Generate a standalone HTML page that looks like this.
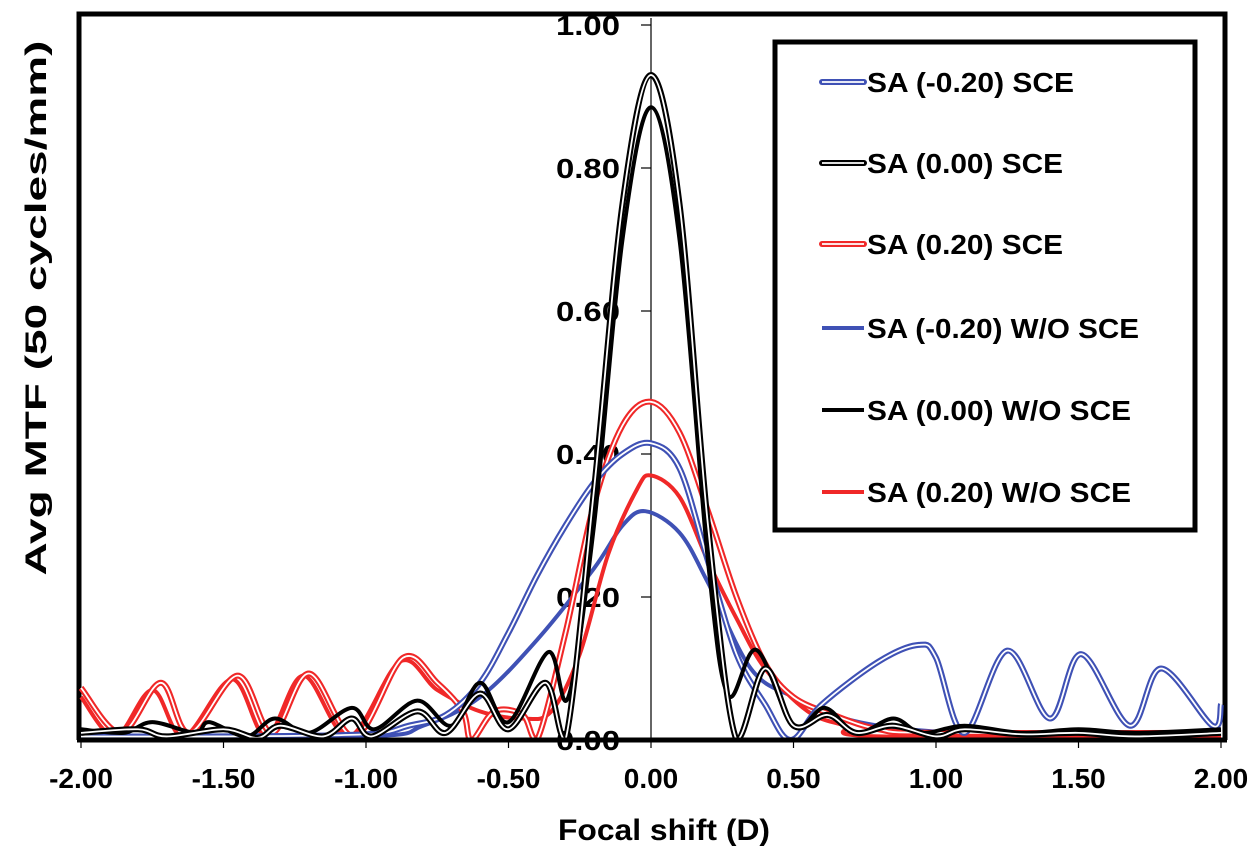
<!DOCTYPE html>
<html><head><meta charset="utf-8"><style>
html,body{margin:0;padding:0;background:#fff;}
svg{display:block;font-family:"Liberation Sans",Arial,sans-serif;font-weight:bold;}
</style></head><body>
<svg id="chart" width="1260" height="862" viewBox="0 0 1260 862"></svg>
<script>
const xTicks=[-2,-1.5,-1,-0.5,0,0.5,1,1.5,2];
const xTickLabels=["-2.00","-1.50","-1.00","-0.50","0.00","0.50","1.00","1.50","2.00"];
const yTicks=[0,0.2,0.4,0.6,0.8,1.0];
const yTickLabels=["0.00","0.20","0.40","0.60","0.80","1.00"];
const seriesNames=["SA (-0.20) SCE","SA (0.00) SCE","SA (0.20) SCE","SA (-0.20) W/O SCE","SA (0.00) W/O SCE","SA (0.20) W/O SCE"];
const blueSCE=[[-2,0.005],[-1.5,0.005],[-1,0.008],[-0.85,0.02],[-0.72,0.035],[-0.6,0.08],[-0.5,0.15],[-0.4,0.23],[-0.3,0.30],[-0.2,0.36],[-0.1,0.40],[0,0.415],[0.1,0.38],[0.2,0.25],[0.3,0.12],[0.4,0.05],[0.49,0.0],[0.6,0.05],[0.8,0.11],[0.94,0.133],[1.0,0.115],[1.1,0.01],[1.25,0.125],[1.4,0.03],[1.51,0.12],[1.68,0.02],[1.79,0.1],[1.97,0.02],[2,0.05]];
const blackSCE=[[-2,0.01],[-1.8,0.015],[-1.7,0.005],[-1.5,0.015],[-1.38,0.003],[-1.3,0.02],[-1.15,0.005],[-1.05,0.03],[-0.98,0.005],[-0.82,0.04],[-0.72,0.01],[-0.6,0.065],[-0.5,0.015],[-0.37,0.08],[-0.3,0.0],[-0.2,0.35],[-0.1,0.75],[0,0.93],[0.1,0.75],[0.2,0.3],[0.3,0.0],[0.4,0.10],[0.5,0.02],[0.62,0.035],[0.72,0.01],[0.85,0.02],[1.0,0.005],[1.1,0.015],[1.3,0.008],[1.5,0.01],[1.7,0.005],[2,0.01]];
const redSCE=[[-2,0.073],[-1.86,0.01],[-1.72,0.08],[-1.62,0.01],[-1.45,0.09],[-1.33,0.01],[-1.2,0.093],[-1.04,0.005],[-0.87,0.115],[-0.75,0.08],[-0.66,0.04],[-0.63,0.0],[-0.55,0.04],[-0.45,0.035],[-0.4,0.0],[-0.3,0.15],[-0.2,0.33],[-0.1,0.44],[0,0.473],[0.1,0.43],[0.2,0.32],[0.3,0.2],[0.4,0.107],[0.5,0.06],[0.64,0.035],[0.8,0.015],[1,0.01],[2,0.01]];
const blueWO=[[-2,0.003],[-1,0.005],[-0.8,0.02],[-0.6,0.06],[-0.4,0.14],[-0.2,0.24],[-0.1,0.3],[-0.02,0.32],[0.1,0.29],[0.2,0.22],[0.35,0.1],[0.5,0.06],[0.68,0.03],[0.9,0.015],[1.2,0.01],[2,0.01]];
const blackWO=[[-2,0.015],[-1.85,0.01],[-1.75,0.025],[-1.6,0.01],[-1.55,0.025],[-1.42,0.005],[-1.32,0.03],[-1.2,0.01],[-1.05,0.045],[-0.97,0.015],[-0.82,0.055],[-0.7,0.02],[-0.6,0.08],[-0.5,0.025],[-0.36,0.123],[-0.29,0.06],[-0.2,0.3],[-0.1,0.7],[0,0.885],[0.1,0.7],[0.2,0.25],[0.27,0.063],[0.37,0.126],[0.5,0.02],[0.61,0.045],[0.72,0.01],[0.85,0.03],[0.95,0.01],[1.1,0.02],[1.3,0.01],[1.5,0.015],[1.7,0.01],[2,0.015]];
const redWO=[[-2,0.06],[-1.88,0.005],[-1.75,0.07],[-1.64,0.005],[-1.47,0.085],[-1.35,0.005],[-1.22,0.09],[-1.06,0.005],[-0.88,0.11],[-0.75,0.07],[-0.6,0.04],[-0.45,0.03],[-0.35,0.04],[-0.25,0.12],[-0.15,0.26],[-0.05,0.35],[0,0.37],[0.1,0.34],[0.2,0.25],[0.3,0.17],[0.4,0.1],[0.55,0.04],[0.68,0.02],[0.8,0.005],[2,0.005]];

const NS="http://www.w3.org/2000/svg";
const svg=document.getElementById('chart');
const X=d=>651+285*d;
const Y=v=>740-715*v;
function mk(tag,attrs,parent){const e=document.createElementNS(NS,tag);for(const k in attrs)e.setAttribute(k,attrs[k]);(parent||svg).appendChild(e);return e;}
function pathD(pts){
  const p=pts.map(q=>[X(q[0]),Y(q[1])]);
  let d='M'+p[0][0]+','+p[0][1];
  const lim=(y,a,b)=>Math.min(Math.max(y,Math.min(a,b)-40),740);
  for(let i=0;i<p.length-1;i++){
    const p0=p[i-1]||p[i],p1=p[i],p2=p[i+1],p3=p[i+2]||p2;
    const c1=[p1[0]+(p2[0]-p0[0])/6,lim(p1[1]+(p2[1]-p0[1])/6,p1[1],p2[1])];
    const c2=[p2[0]-(p3[0]-p1[0])/6,lim(p2[1]-(p3[1]-p1[1])/6,p1[1],p2[1])];
    d+=' C'+c1[0]+','+c1[1]+' '+c2[0]+','+c2[1]+' '+p2[0]+','+p2[1];
  }
  return d;
}
const defs=mk('defs',{});
const cp=mk('clipPath',{id:'clip'},defs);
mk('rect',{x:79,y:14,width:1146,height:728},cp);

const frame=mk('path',{d:'M79,740 L79,14 L1225,14 L1225,740',fill:'none',stroke:'#000','stroke-width':5});



const yAxis=mk('line',{x1:651,y1:18,x2:651,y2:740,stroke:'#000','stroke-width':1.2});


yTicks.forEach((t,i)=>{
  mk('line',{x1:641,y1:Y(t),x2:651,y2:Y(t),stroke:'#000','stroke-width':1.2});
  const tx=mk('text',{x:620,y:Y(t)+10,'text-anchor':'end','font-size':28,fill:'#000',textLength:64,lengthAdjust:'spacingAndGlyphs'});
  tx.textContent=yTickLabels[i];
  
  
});
xTicks.forEach((t,i)=>{
  mk('line',{x1:X(t),y1:740,x2:X(t),y2:748,stroke:'#000','stroke-width':1.2});
  const tx=mk('text',{x:X(t),y:788,'text-anchor':'middle','font-size':28,fill:'#000'});
  tx.textContent=xTickLabels[i];
  
  
});

const g=mk('g',{'clip-path':'url(#clip)'});


const BLUE='#3f51b5',RED='#f02828',BLACK='#000';
function dbl(pts,col,name){
  const a=mk('path',{d:pathD(pts),fill:'none',stroke:col,'stroke-width':6,'stroke-linejoin':'round'},g);
  
  
  mk('path',{d:pathD(pts),fill:'none',stroke:'#fff','stroke-width':1.8,'stroke-linejoin':'round'},g);
}
function sol(pts,col,name){
  const a=mk('path',{d:pathD(pts),fill:'none',stroke:col,'stroke-width':4,'stroke-linejoin':'round'},g);
  
  
}
sol(blueWO,BLUE,'line-sa-neg020-wo-sce');
sol(redWO,RED,'line-sa-020-wo-sce');
dbl(redSCE,RED,'line-sa-020-sce');
dbl(blueSCE,BLUE,'line-sa-neg020-sce');
sol(blackWO,BLACK,'line-sa-000-wo-sce');
dbl(blackSCE,BLACK,'line-sa-000-sce');

const xAxis=mk('line',{x1:77,y1:740,x2:1227,y2:740,stroke:'#000','stroke-width':5});



const lg=mk('g',{});


mk('rect',{x:775,y:42,width:420,height:488,fill:'#fff',stroke:'#000','stroke-width':5},lg);
const legCols=[BLUE,BLACK,RED,BLUE,BLACK,RED];
const legDbl=[true,true,true,false,false,false];
const legY=[82,163,244,328,410,492];
const legW=[207,196,196,272,264,264];
seriesNames.forEach((n,i)=>{
  const e=mk('g',{},lg);
  
  
  const y=legY[i];
  if(legDbl[i]){
    mk('line',{x1:822,y1:y,x2:864,y2:y,stroke:legCols[i],'stroke-width':6,'stroke-linecap':'round'},e);
    mk('line',{x1:822,y1:y,x2:864,y2:y,stroke:'#fff','stroke-width':1.8},e);
  } else {
    mk('line',{x1:822,y1:y,x2:864,y2:y,stroke:legCols[i],'stroke-width':4},e);
  }
  const t=mk('text',{x:867,y:y+10,'font-size':28,fill:'#000',textLength:legW[i],lengthAdjust:'spacingAndGlyphs'},e);
  t.textContent=n;
});

const xt=mk('text',{x:664,y:840,'text-anchor':'middle','font-size':30,fill:'#000',textLength:212,lengthAdjust:'spacingAndGlyphs'});
xt.textContent='Focal shift (D)';


const yt=mk('text',{x:0,y:0,'text-anchor':'middle','font-size':30,fill:'#000',textLength:535,lengthAdjust:'spacingAndGlyphs',transform:'translate(46,308) rotate(-90)'});
yt.textContent='Avg MTF (50 cycles/mm)';


</script>
</body></html>
